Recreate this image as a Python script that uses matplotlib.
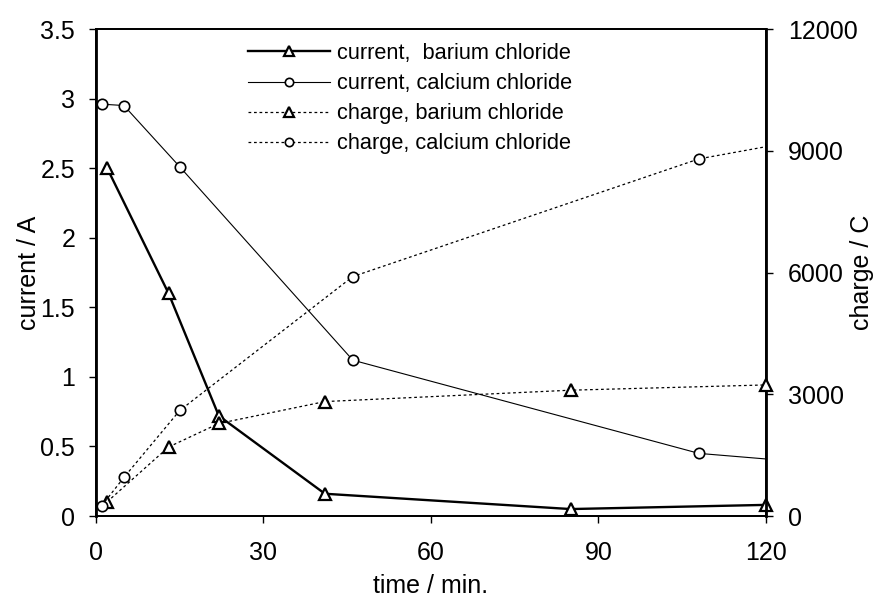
import matplotlib
matplotlib.use('Agg')
import matplotlib.pyplot as plt

plt.rcParams['font.family'] = ['Liberation Sans', 'DejaVu Sans']

# time / min
t_ba_current = [2, 13, 22, 41, 85, 120]
t_ca_current = [1, 5, 15, 46, 108, 120]
t_ba_charge = [2, 13, 22, 41, 85, 120]
t_ca_charge = [1, 5, 15, 46, 108, 120]

# current / A
ba_current = [2.5, 1.6, 0.72, 0.16, 0.05, 0.08]
ca_current = [2.96, 2.95, 2.51, 1.12, 0.45, 0.41]

# charge / C
ba_charge = [350, 1700, 2280, 2820, 3100, 3230]
ca_charge = [250, 950, 2600, 5900, 8800, 9100]

labels = ['current,  barium chloride', 'current, calcium chloride',
          'charge, barium chloride', 'charge, calcium chloride']

fig = plt.figure(figsize=(8.75, 5.98), dpi=100)
ax = fig.add_axes([0.1097, 0.1371, 0.7657, 0.8144])
ax2 = ax.twinx()

tick_fs = 18
label_fs = 18
leg_fs = 15.7
dots = (0, (2.2, 2.2))

l1, = ax.plot(t_ba_current, ba_current, color='black', lw=1.7,
              marker='^', ms=9, mfc='white', mec='black', mew=1.6,
              clip_on=False, zorder=3)
l2, = ax.plot(t_ca_current, ca_current, color='black', lw=0.8,
              marker='o', ms=7.5, mfc='white', mec='black', mew=1.2,
              markevery=[0, 1, 2, 3, 4], clip_on=False, zorder=3)
l3, = ax2.plot(t_ba_charge, ba_charge, color='black', lw=0.9, ls=dots,
               marker='^', ms=9, mfc='white', mec='black', mew=1.6,
               clip_on=False, zorder=3)
l4, = ax2.plot(t_ca_charge, ca_charge, color='black', lw=0.9, ls=dots,
               marker='o', ms=7.5, mfc='white', mec='black', mew=1.2,
               markevery=[0, 1, 2, 3, 4], clip_on=False, zorder=3)

ax.set_xlim(0, 120)
ax.set_ylim(0, 3.5)
ax2.set_ylim(0, 12000)
ax.set_xticks([0, 30, 60, 90, 120])
ax.set_yticks([0, 0.5, 1, 1.5, 2, 2.5, 3, 3.5])
ax.set_yticklabels(['0', '0.5', '1', '1.5', '2', '2.5', '3', '3.5'])
ax2.set_yticks([0, 3000, 6000, 9000, 12000])

for a in (ax, ax2):
    a.tick_params(direction='out', length=5, width=1, labelsize=tick_fs)
    for s in a.spines.values():
        s.set_linewidth(1.3)
ax.tick_params(axis='y', pad=10)
ax.tick_params(axis='x', pad=13)
ax2.tick_params(axis='y', pad=11)
ax.spines['left'].set_linewidth(2)
ax2.spines['right'].set_linewidth(2)

ax.set_xlabel('time / min.', fontsize=label_fs)
ax.set_ylabel('current / A', fontsize=label_fs)
ax2.set_ylabel('charge / C', fontsize=label_fs)
ax.xaxis.set_label_coords(0.5, -0.12)
ax.yaxis.set_label_coords(-0.082, 0.5)
ax2.yaxis.set_label_coords(1.125, 0.5)

leg = ax2.legend([l1, l2, l3, l4], labels, frameon=False, fontsize=leg_fs,
                 loc='upper left', bbox_to_anchor=(248 / 875, 1 - 43 / 598),
                 bbox_transform=fig.transFigure, borderpad=0, borderaxespad=0,
                 handlelength=3.76, handletextpad=0.32, labelspacing=0.42)
for h, ms in zip(leg.legend_handles, [7.5, 6, 7.5, 6]):
    h.set_markersize(ms)

fig.savefig('out.png', dpi=100)
